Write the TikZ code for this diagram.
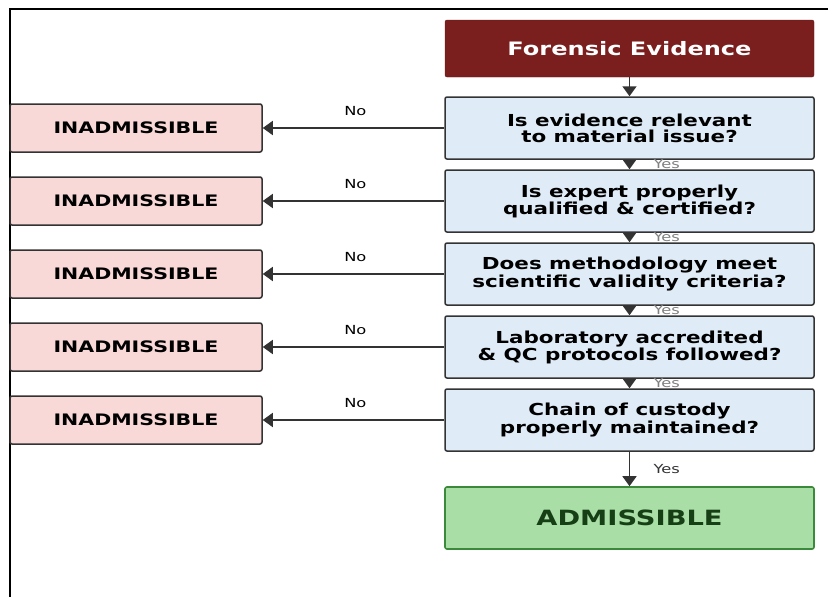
\documentclass[tikz,border=0pt]{standalone}
\usepackage{fontspec}
\newfontfamily\dvs[FakeStretch=1.3]{DejaVu Sans}
\usetikzlibrary{arrows.meta}

\definecolor{evred}{HTML}{7A1E1E}
\definecolor{qblue}{HTML}{DFEBF6}
\definecolor{nopink}{HTML}{F9D8D8}
\definecolor{okgreen}{HTML}{A9DEA6}
\definecolor{okedge}{HTML}{3B8A3B}
\definecolor{oktext}{HTML}{163F16}
\definecolor{edge}{HTML}{333333}

\tikzset{
	question/.style={draw=edge, line width=1.5pt, fill=qblue, rounded corners=2pt,
		minimum width=369pt, minimum height=62pt, align=center,
		font=\dvs\bfseries\fontsize{16.5}{16}\selectfont},
	reject/.style={draw=edge, line width=1.5pt, fill=nopink, rounded corners=2pt,
		minimum width=252pt, minimum height=48pt,
		font=\dvs\bfseries\fontsize{15.8}{16}\selectfont},
	flow/.style={draw=edge, line width=1.6pt, -{Triangle[length=10pt,width=14pt]}},
	answer/.style={font=\dvs\fontsize{12.5}{14}\selectfont},
}

\begin{document}
\begin{tikzpicture}[x=1pt, y=-1pt]
	\useasboundingbox (0,0) rectangle (828,597);

	% Frame
	\draw[line width=2pt] (9.5,597) -- (9.5,8.5) -- (828,8.5);

	% Start
	\node[fill=evred, draw=evred!80!black, rounded corners=2pt, minimum width=369pt,
		minimum height=57pt, text=white, font=\dvs\bfseries\fontsize{18.5}{20}\selectfont]
		(start) at (629.5,48.5) {Forensic Evidence};

	% Questions
	\node[question] (q1) at (629.5,128) {Is evidence relevant\\to material issue?};
	\node[question] (q2) at (629.5,201) {Is expert properly\\qualified \& certified?};
	\node[question] (q3) at (629.5,274) {Does methodology meet\\scientific validity criteria?};
	\node[question] (q4) at (629.5,347) {Laboratory accredited\\\& QC protocols followed?};
	\node[question] (q5) at (629.5,420) {Chain of custody\\properly maintained?};

	% Result
	\node[draw=okedge, line width=1.6pt, fill=okgreen, rounded corners=2pt, minimum width=369pt,
		minimum height=62pt, text=oktext, font=\dvs\bfseries\fontsize{21}{23}\selectfont]
		(ok) at (629.5,518) {ADMISSIBLE};

	% Rejections
	\node[reject] (r1) at (136,128) {INADMISSIBLE};
	\node[reject] (r2) at (136,201) {INADMISSIBLE};
	\node[reject] (r3) at (136,274) {INADMISSIBLE};
	\node[reject] (r4) at (136,347) {INADMISSIBLE};
	\node[reject] (r5) at (136,420) {INADMISSIBLE};

	% Yes edges
	\draw[flow] (start) -- (q1);
	\draw[flow] (q1) -- node[answer, right=20pt, text=gray] {Yes} (q2);
	\draw[flow] (q2) -- node[answer, right=20pt, text=gray] {Yes} (q3);
	\draw[flow] (q3) -- node[answer, right=20pt, text=gray] {Yes} (q4);
	\draw[flow] (q4) -- node[answer, right=20pt, text=gray] {Yes} (q5);
	\draw[flow] (q5) -- node[answer, right=20pt, text=edge] {Yes} (ok);

	% No edges
	\draw[flow] (q1) -- node[answer, above=8pt, pos=0.49] {No} (r1);
	\draw[flow] (q2) -- node[answer, above=8pt, pos=0.49] {No} (r2);
	\draw[flow] (q3) -- node[answer, above=8pt, pos=0.49] {No} (r3);
	\draw[flow] (q4) -- node[answer, above=8pt, pos=0.49] {No} (r4);
	\draw[flow] (q5) -- node[answer, above=8pt, pos=0.49] {No} (r5);
\end{tikzpicture}
\end{document}
